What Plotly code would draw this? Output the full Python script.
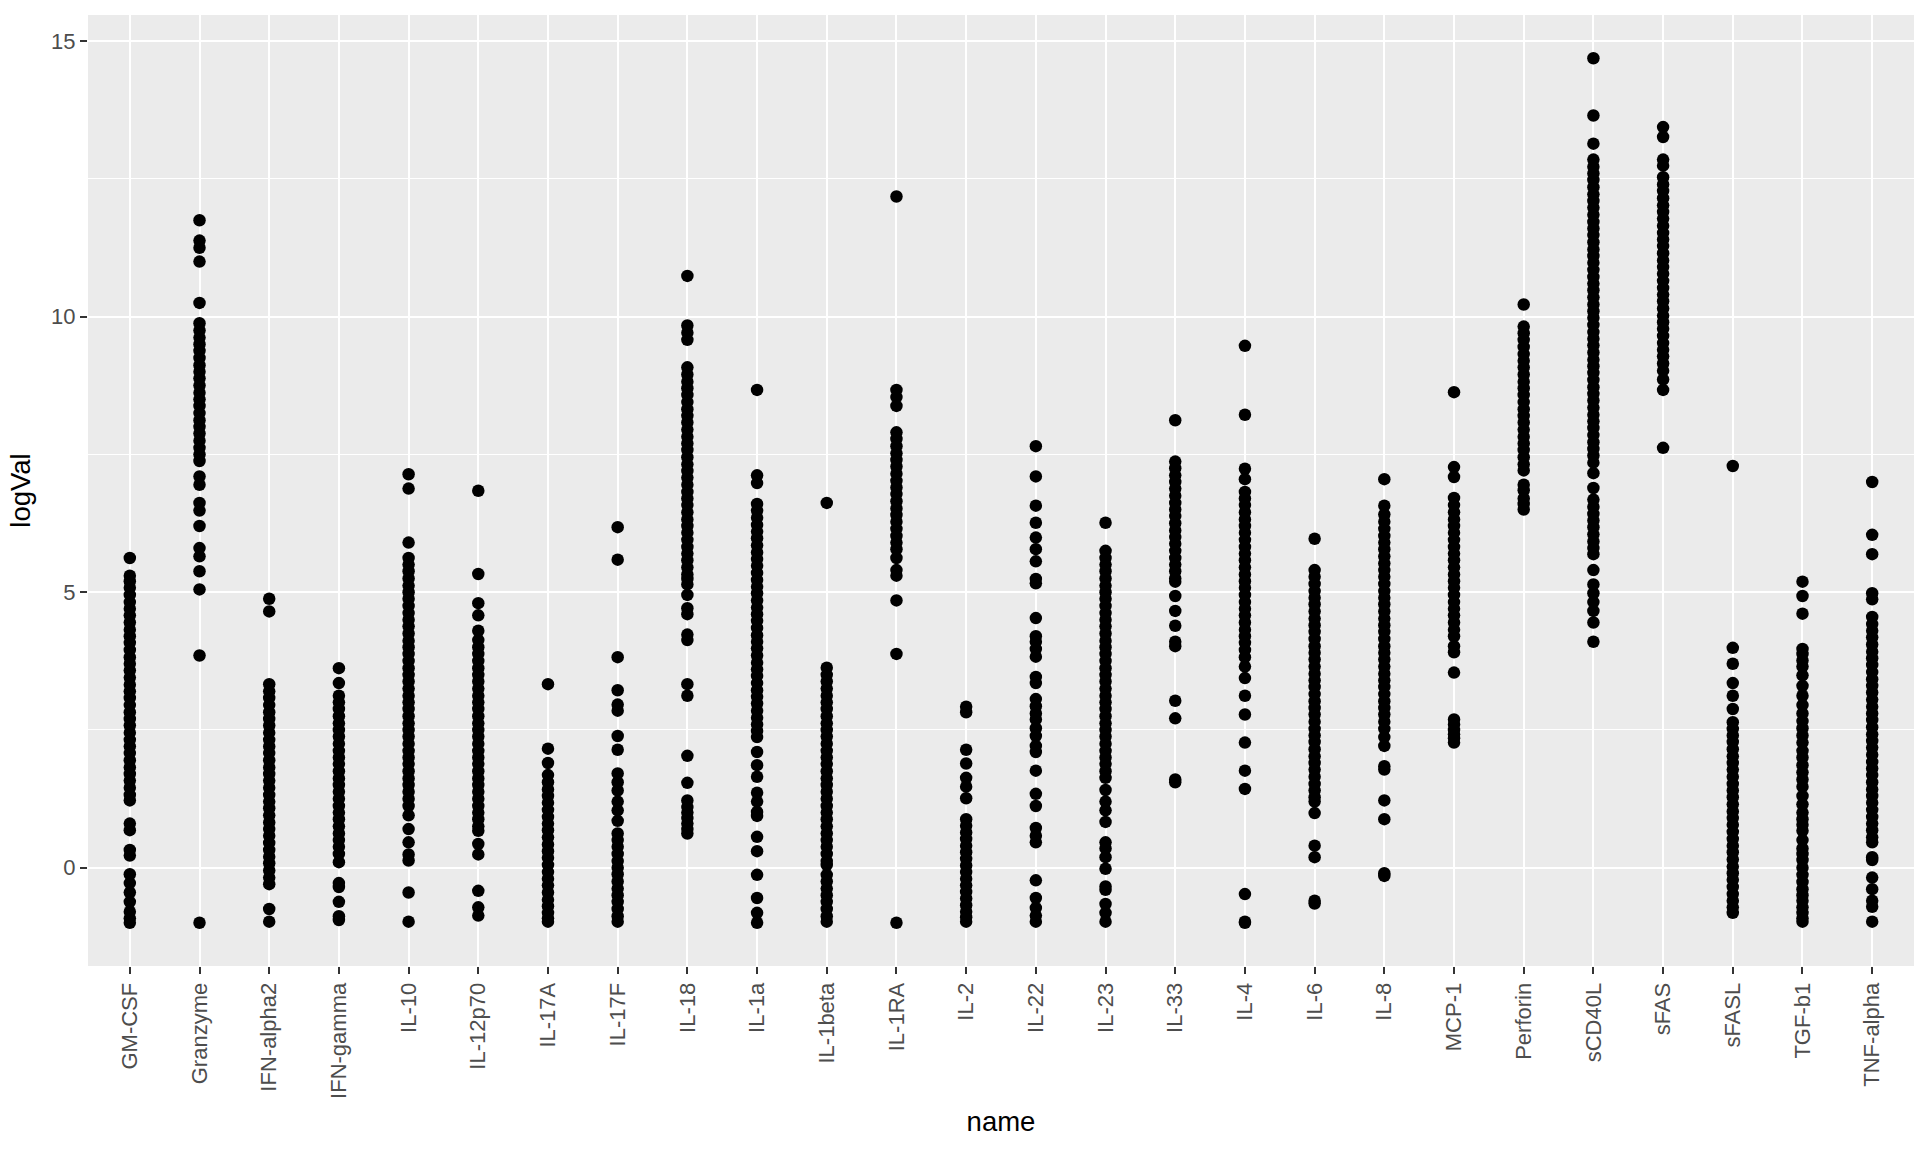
import plotly.graph_objects as go

categories = ["GM-CSF", "Granzyme", "IFN-alpha2", "IFN-gamma", "IL-10", "IL-12p70", "IL-17A",
              "IL-17F", "IL-18", "IL-1a", "IL-1beta", "IL-1RA", "IL-2", "IL-22", "IL-23", "IL-33",
              "IL-4", "IL-6", "IL-8", "MCP-1", "Perforin", "sCD40L", "sFAS", "sFASL", "TGF-b1", "TNF-alpha"]

gm_csf = [5.62, 5.3, 5.2, 5.08, 4.95, 4.82, 4.7, 4.58, 4.45, 4.32, 4.2, 4.08, 3.95, 3.82, 3.7, 3.58, 3.45,
          3.32, 3.2, 3.08, 2.95, 2.82, 2.7, 2.58, 2.45, 2.32, 2.2, 2.08, 1.95, 1.82, 1.7, 1.58, 1.45, 1.32,
          1.22, 0.8, 0.68, 0.32, 0.22, -0.12, -0.28, -0.45, -0.62, -0.8, -0.92, -1.0]
granzyme = [11.75, 11.38, 11.25, 11.0, 10.25, 9.88, 9.75, 9.62, 9.5, 9.38, 9.25, 9.12, 9.0, 8.88, 8.75,
            8.62, 8.5, 8.38, 8.25, 8.12, 8.0, 7.88, 7.75, 7.62, 7.5, 7.38, 7.1, 6.95, 6.62, 6.48, 6.2,
            5.8, 5.65, 5.38, 5.05, 3.85, -1.0]
ifn_alpha2 = [4.88, 4.65, 3.33, 3.2, 3.08, 2.95, 2.82, 2.7, 2.58, 2.45, 2.32, 2.2, 2.08, 1.95, 1.82, 1.7,
              1.58, 1.45, 1.32, 1.2, 1.08, 0.95, 0.82, 0.7, 0.58, 0.45, 0.32, 0.2, 0.08, -0.05, -0.18,
              -0.3, -0.75, -0.98]
ifn_gamma = [3.62, 3.35, 3.12, 3.0, 2.88, 2.75, 2.62, 2.5, 2.38, 2.25, 2.12, 2.0, 1.88, 1.75, 1.62, 1.5,
             1.38, 1.25, 1.12, 1.0, 0.88, 0.75, 0.62, 0.5, 0.38, 0.25, 0.1, -0.28, -0.35, -0.62, -0.88,
             -0.95]
il_10 = [7.14, 6.88, 5.9, 5.62, 5.5, 5.38, 5.25, 5.12, 5.0, 4.88, 4.75, 4.62, 4.5, 4.38, 4.25, 4.12, 4.0,
         3.88, 3.75, 3.62, 3.5, 3.38, 3.25, 3.12, 3.0, 2.88, 2.75, 2.62, 2.5, 2.38, 2.25, 2.12, 2.0, 1.88,
         1.75, 1.62, 1.5, 1.38, 1.25, 1.12, 0.95, 0.7, 0.46, 0.24, 0.13, -0.45, -0.98]
il_12p70 = [6.84, 5.33, 4.8, 4.58, 4.3, 4.13, 4.0, 3.88, 3.75, 3.62, 3.5, 3.38, 3.25, 3.12, 3.0, 2.88,
            2.75, 2.62, 2.5, 2.38, 2.25, 2.12, 2.0, 1.88, 1.75, 1.62, 1.5, 1.38, 1.25, 1.12, 1.0, 0.88,
            0.75, 0.67, 0.43, 0.24, -0.42, -0.72, -0.87]
il_17a = [3.33, 2.16, 1.9, 1.68, 1.55, 1.42, 1.3, 1.18, 1.05, 0.92, 0.8, 0.68, 0.55, 0.42, 0.3, 0.18,
          0.05, -0.08, -0.2, -0.32, -0.45, -0.58, -0.7, -0.82, -0.92, -0.98]
il_17f = [6.18, 5.59, 3.82, 3.22, 2.96, 2.85, 2.39, 2.14, 1.71, 1.55, 1.4, 1.2, 1.04, 0.85, 0.62, 0.5,
          0.38, 0.25, 0.12, 0.0, -0.12, -0.25, -0.38, -0.5, -0.62, -0.75, -0.88, -0.98]
il_18 = [10.74, 9.84, 9.71, 9.58, 9.08, 8.95, 8.82, 8.7, 8.58, 8.45, 8.32, 8.2, 8.08, 7.95, 7.82, 7.7,
         7.58, 7.45, 7.32, 7.2, 7.08, 6.95, 6.82, 6.7, 6.58, 6.45, 6.32, 6.2, 6.08, 5.95, 5.82, 5.7, 5.58,
         5.45, 5.32, 5.24, 5.14, 4.95, 4.71, 4.6, 4.23, 4.13, 3.33, 3.12, 2.03, 1.54, 1.22, 1.1, 1.0, 0.9,
         0.8, 0.7, 0.62]
il_1a = [8.67, 7.12, 6.98, 6.6, 6.48, 6.35, 6.22, 6.1, 5.98, 5.85, 5.72, 5.6, 5.48, 5.35, 5.22, 5.1, 4.98,
         4.85, 4.72, 4.6, 4.48, 4.35, 4.22, 4.1, 3.98, 3.85, 3.72, 3.6, 3.48, 3.35, 3.22, 3.1, 2.98, 2.85,
         2.72, 2.6, 2.48, 2.37, 2.1, 1.86, 1.65, 1.36, 1.2, 1.01, 0.94, 0.56, 0.3, -0.13, -0.55, -0.82, -1.0]
il_1beta = [6.62, 3.63, 3.5, 3.38, 3.25, 3.12, 3.0, 2.88, 2.75, 2.62, 2.5, 2.38, 2.25, 2.12, 2.0, 1.88,
            1.75, 1.62, 1.5, 1.38, 1.25, 1.12, 1.0, 0.88, 0.75, 0.62, 0.5, 0.38, 0.25, 0.12, 0.05, -0.13,
            -0.25, -0.38, -0.5, -0.62, -0.75, -0.88, -0.98]
il_1ra = [12.18, 8.67, 8.54, 8.38, 7.9, 7.78, 7.65, 7.52, 7.4, 7.28, 7.15, 7.02, 6.9, 6.78, 6.65, 6.52, 6.4,
          6.28, 6.15, 6.02, 5.9, 5.78, 5.62, 5.4, 5.3, 4.85, 3.88, -1.0]
il_2 = [2.92, 2.82, 2.14, 1.89, 1.63, 1.47, 1.26, 0.88, 0.76, 0.64, 0.52, 0.4, 0.28, 0.16, 0.04, -0.08,
        -0.2, -0.32, -0.44, -0.56, -0.68, -0.8, -0.9, -0.98]
il_22 = [7.65, 7.1, 6.57, 6.26, 5.99, 5.78, 5.56, 5.24, 5.16, 4.53, 4.2, 4.1, 3.97, 3.83, 3.46, 3.35, 3.06,
         2.93, 2.8, 2.69, 2.53, 2.39, 2.21, 2.1, 1.76, 1.34, 1.12, 0.72, 0.58, 0.46, -0.23, -0.55, -0.73,
         -0.87, -0.98]
il_23 = [6.26, 5.75, 5.62, 5.5, 5.38, 5.25, 5.12, 5.0, 4.88, 4.75, 4.62, 4.5, 4.38, 4.25, 4.12, 4.0, 3.88,
         3.75, 3.62, 3.5, 3.38, 3.25, 3.12, 3.0, 2.88, 2.75, 2.62, 2.5, 2.38, 2.25, 2.12, 2.0, 1.88, 1.75,
         1.63, 1.41, 1.2, 1.04, 0.83, 0.46, 0.35, 0.19, -0.02, -0.34, -0.4, -0.66, -0.82, -0.98]
il_33 = [8.12, 7.37, 7.25, 7.12, 7.0, 6.88, 6.75, 6.62, 6.5, 6.38, 6.25, 6.12, 6.0, 5.88, 5.75, 5.62, 5.5,
         5.38, 5.25, 5.19, 4.93, 4.66, 4.39, 4.1, 4.02, 3.03, 2.71, 1.6, 1.55]
il_4 = [9.47, 8.22, 7.24, 7.05, 6.82, 6.7, 6.58, 6.45, 6.32, 6.2, 6.08, 5.95, 5.82, 5.7, 5.58, 5.45, 5.32,
        5.2, 5.08, 4.95, 4.82, 4.7, 4.58, 4.45, 4.32, 4.2, 4.08, 3.95, 3.82, 3.65, 3.44, 3.12, 2.78, 2.27,
        1.76, 1.43, -0.48, -0.98, -1.0]
il_6 = [5.97, 5.4, 5.28, 5.15, 5.02, 4.9, 4.78, 4.65, 4.52, 4.4, 4.28, 4.15, 4.02, 3.9, 3.78, 3.65, 3.52,
        3.4, 3.28, 3.15, 3.02, 2.9, 2.78, 2.65, 2.52, 2.4, 2.28, 2.15, 2.02, 1.9, 1.78, 1.65, 1.52, 1.4,
        1.28, 1.2, 0.99, 0.4, 0.19, -0.6, -0.65]
il_8 = [7.05, 6.57, 6.41, 6.28, 6.15, 6.02, 5.9, 5.78, 5.65, 5.52, 5.4, 5.28, 5.15, 5.02, 4.9, 4.78, 4.65,
        4.52, 4.4, 4.28, 4.15, 4.02, 3.9, 3.78, 3.65, 3.52, 3.4, 3.28, 3.15, 3.02, 2.9, 2.78, 2.65, 2.52,
        2.37, 2.21, 1.84, 1.78, 1.22, 0.88, -0.1, -0.15]
mcp_1 = [8.63, 7.27, 7.09, 6.71, 6.58, 6.45, 6.32, 6.2, 6.08, 5.95, 5.82, 5.7, 5.58, 5.45, 5.32, 5.2, 5.08,
         4.95, 4.82, 4.7, 4.58, 4.45, 4.32, 4.2, 4.02, 3.91, 3.54, 2.69, 2.6, 2.5, 2.42, 2.35, 2.27]
perforin = [10.22, 9.82, 9.7, 9.58, 9.45, 9.32, 9.2, 9.08, 8.95, 8.82, 8.7, 8.58, 8.45, 8.32, 8.2, 8.08,
            7.95, 7.82, 7.7, 7.58, 7.45, 7.32, 7.21, 6.95, 6.85, 6.7, 6.6, 6.5]
scd40l = [14.69, 13.65, 13.14, 12.85, 12.72, 12.6, 12.48, 12.35, 12.22, 12.1, 11.98, 11.85, 11.72, 11.6,
          11.48, 11.35, 11.22, 11.1, 10.98, 10.85, 10.72, 10.6, 10.48, 10.35, 10.22, 10.1, 9.98, 9.85,
          9.72, 9.6, 9.48, 9.35, 9.22, 9.1, 8.98, 8.85, 8.72, 8.6, 8.48, 8.35, 8.22, 8.1, 7.98, 7.85,
          7.72, 7.6, 7.48, 7.35, 7.16, 6.89, 6.68, 6.55, 6.42, 6.3, 6.18, 6.05, 5.92, 5.8, 5.69, 5.4,
          5.14, 4.98, 4.82, 4.66, 4.45, 4.1]
sfas = [13.44, 13.26, 12.85, 12.74, 12.53, 12.4, 12.28, 12.15, 12.02, 11.9, 11.78, 11.65, 11.52, 11.4,
        11.28, 11.15, 11.02, 10.9, 10.78, 10.65, 10.52, 10.4, 10.28, 10.15, 10.02, 9.9, 9.78, 9.65, 9.52,
        9.4, 9.28, 9.15, 9.02, 8.86, 8.67, 7.62]
sfasl = [7.29, 3.99, 3.7, 3.35, 3.12, 2.88, 2.64, 2.52, 2.4, 2.28, 2.15, 2.02, 1.9, 1.78, 1.65, 1.52, 1.4,
         1.28, 1.15, 1.02, 0.9, 0.78, 0.65, 0.52, 0.4, 0.28, 0.15, 0.02, -0.1, -0.22, -0.35, -0.48, -0.6,
         -0.72, -0.82]
tgf_b1 = [5.19, 4.93, 4.61, 3.97, 3.88, 3.76, 3.65, 3.49, 3.3, 3.12, 2.95, 2.8, 2.66, 2.53, 2.4, 2.27,
          2.12, 2.0, 1.86, 1.73, 1.6, 1.47, 1.3, 1.15, 1.0, 0.88, 0.78, 0.67, 0.5, 0.35, 0.25, 0.14, 0.0,
          -0.13, -0.26, -0.39, -0.5, -0.6, -0.72, -0.82, -0.92, -0.98]
tnf_alpha = [7.0, 6.04, 5.69, 4.98, 4.87, 4.55, 4.42, 4.3, 4.18, 4.05, 3.92, 3.8, 3.68, 3.55, 3.42, 3.3,
             3.18, 3.05, 2.92, 2.8, 2.68, 2.55, 2.42, 2.3, 2.18, 2.05, 1.92, 1.8, 1.68, 1.55, 1.42, 1.3,
             1.18, 1.05, 0.92, 0.8, 0.68, 0.55, 0.46, 0.19, 0.14, -0.18, -0.39, -0.6, -0.71, -0.98]

y_ticks = [0, 5, 10, 15]

series = [gm_csf, granzyme, ifn_alpha2, ifn_gamma, il_10, il_12p70, il_17a, il_17f, il_18, il_1a,
          il_1beta, il_1ra, il_2, il_22, il_23, il_33, il_4, il_6, il_8, mcp_1, perforin, scd40l, sfas,
          sfasl, tgf_b1, tnf_alpha]

xs, ys = [], []
for i, vals in enumerate(series):
    xs.extend([i + 1] * len(vals))
    ys.extend(vals)

FONT = "Liberation Sans, Arial, Helvetica, sans-serif"

fig = go.Figure()
fig.add_trace(go.Scatter(
    x=xs, y=ys, mode="markers",
    marker=dict(color="black", size=12.5, line=dict(width=0)),
    showlegend=False, hoverinfo="y",
))

all_vals = [v for s in series for v in s]
lo, hi = min(all_vals), max(all_vals)
pad = (hi - lo) * 0.05

fig.update_layout(
    width=1920, height=1152,
    margin=dict(l=88, r=6, t=15, b=186),
    paper_bgcolor="white", plot_bgcolor="#EBEBEB",
    font=dict(family=FONT),
    xaxis=dict(
        range=[0.4, len(categories) + 0.6],
        tickmode="array", tickvals=list(range(1, len(categories) + 1)), ticktext=categories,
        tickangle=-90,
        tickfont=dict(size=22, color="#4D4D4D", family=FONT),
        ticks="outside", ticklen=7, tickwidth=2, tickcolor="#333333",
        showgrid=True, gridcolor="white", gridwidth=2.4,
        zeroline=False, showline=False,
        title=dict(text="name", font=dict(size=27.5, color="black", family=FONT), standoff=13),
    ),
    yaxis=dict(
        range=[lo - pad, hi + pad],
        tickmode="array", tickvals=y_ticks, ticktext=[str(t) for t in y_ticks],
        tickfont=dict(size=22, color="#4D4D4D", family=FONT),
        ticks="outside", ticklen=7, tickwidth=2, tickcolor="#333333",
        showgrid=True, gridcolor="white", gridwidth=2.4,
        minor=dict(tickmode="array", tickvals=[2.5, 7.5, 12.5], showgrid=True,
                   gridcolor="white", gridwidth=1.2, ticks=""),
        zeroline=False, showline=False,
        title=dict(text="logVal", font=dict(size=27.5, color="black", family=FONT), standoff=12),
    ),
)

fig.write_html(
    "out.html",
    config={"displayModeBar": False},
    post_script="document.body.style.margin='0';document.body.style.padding='0';",
)
